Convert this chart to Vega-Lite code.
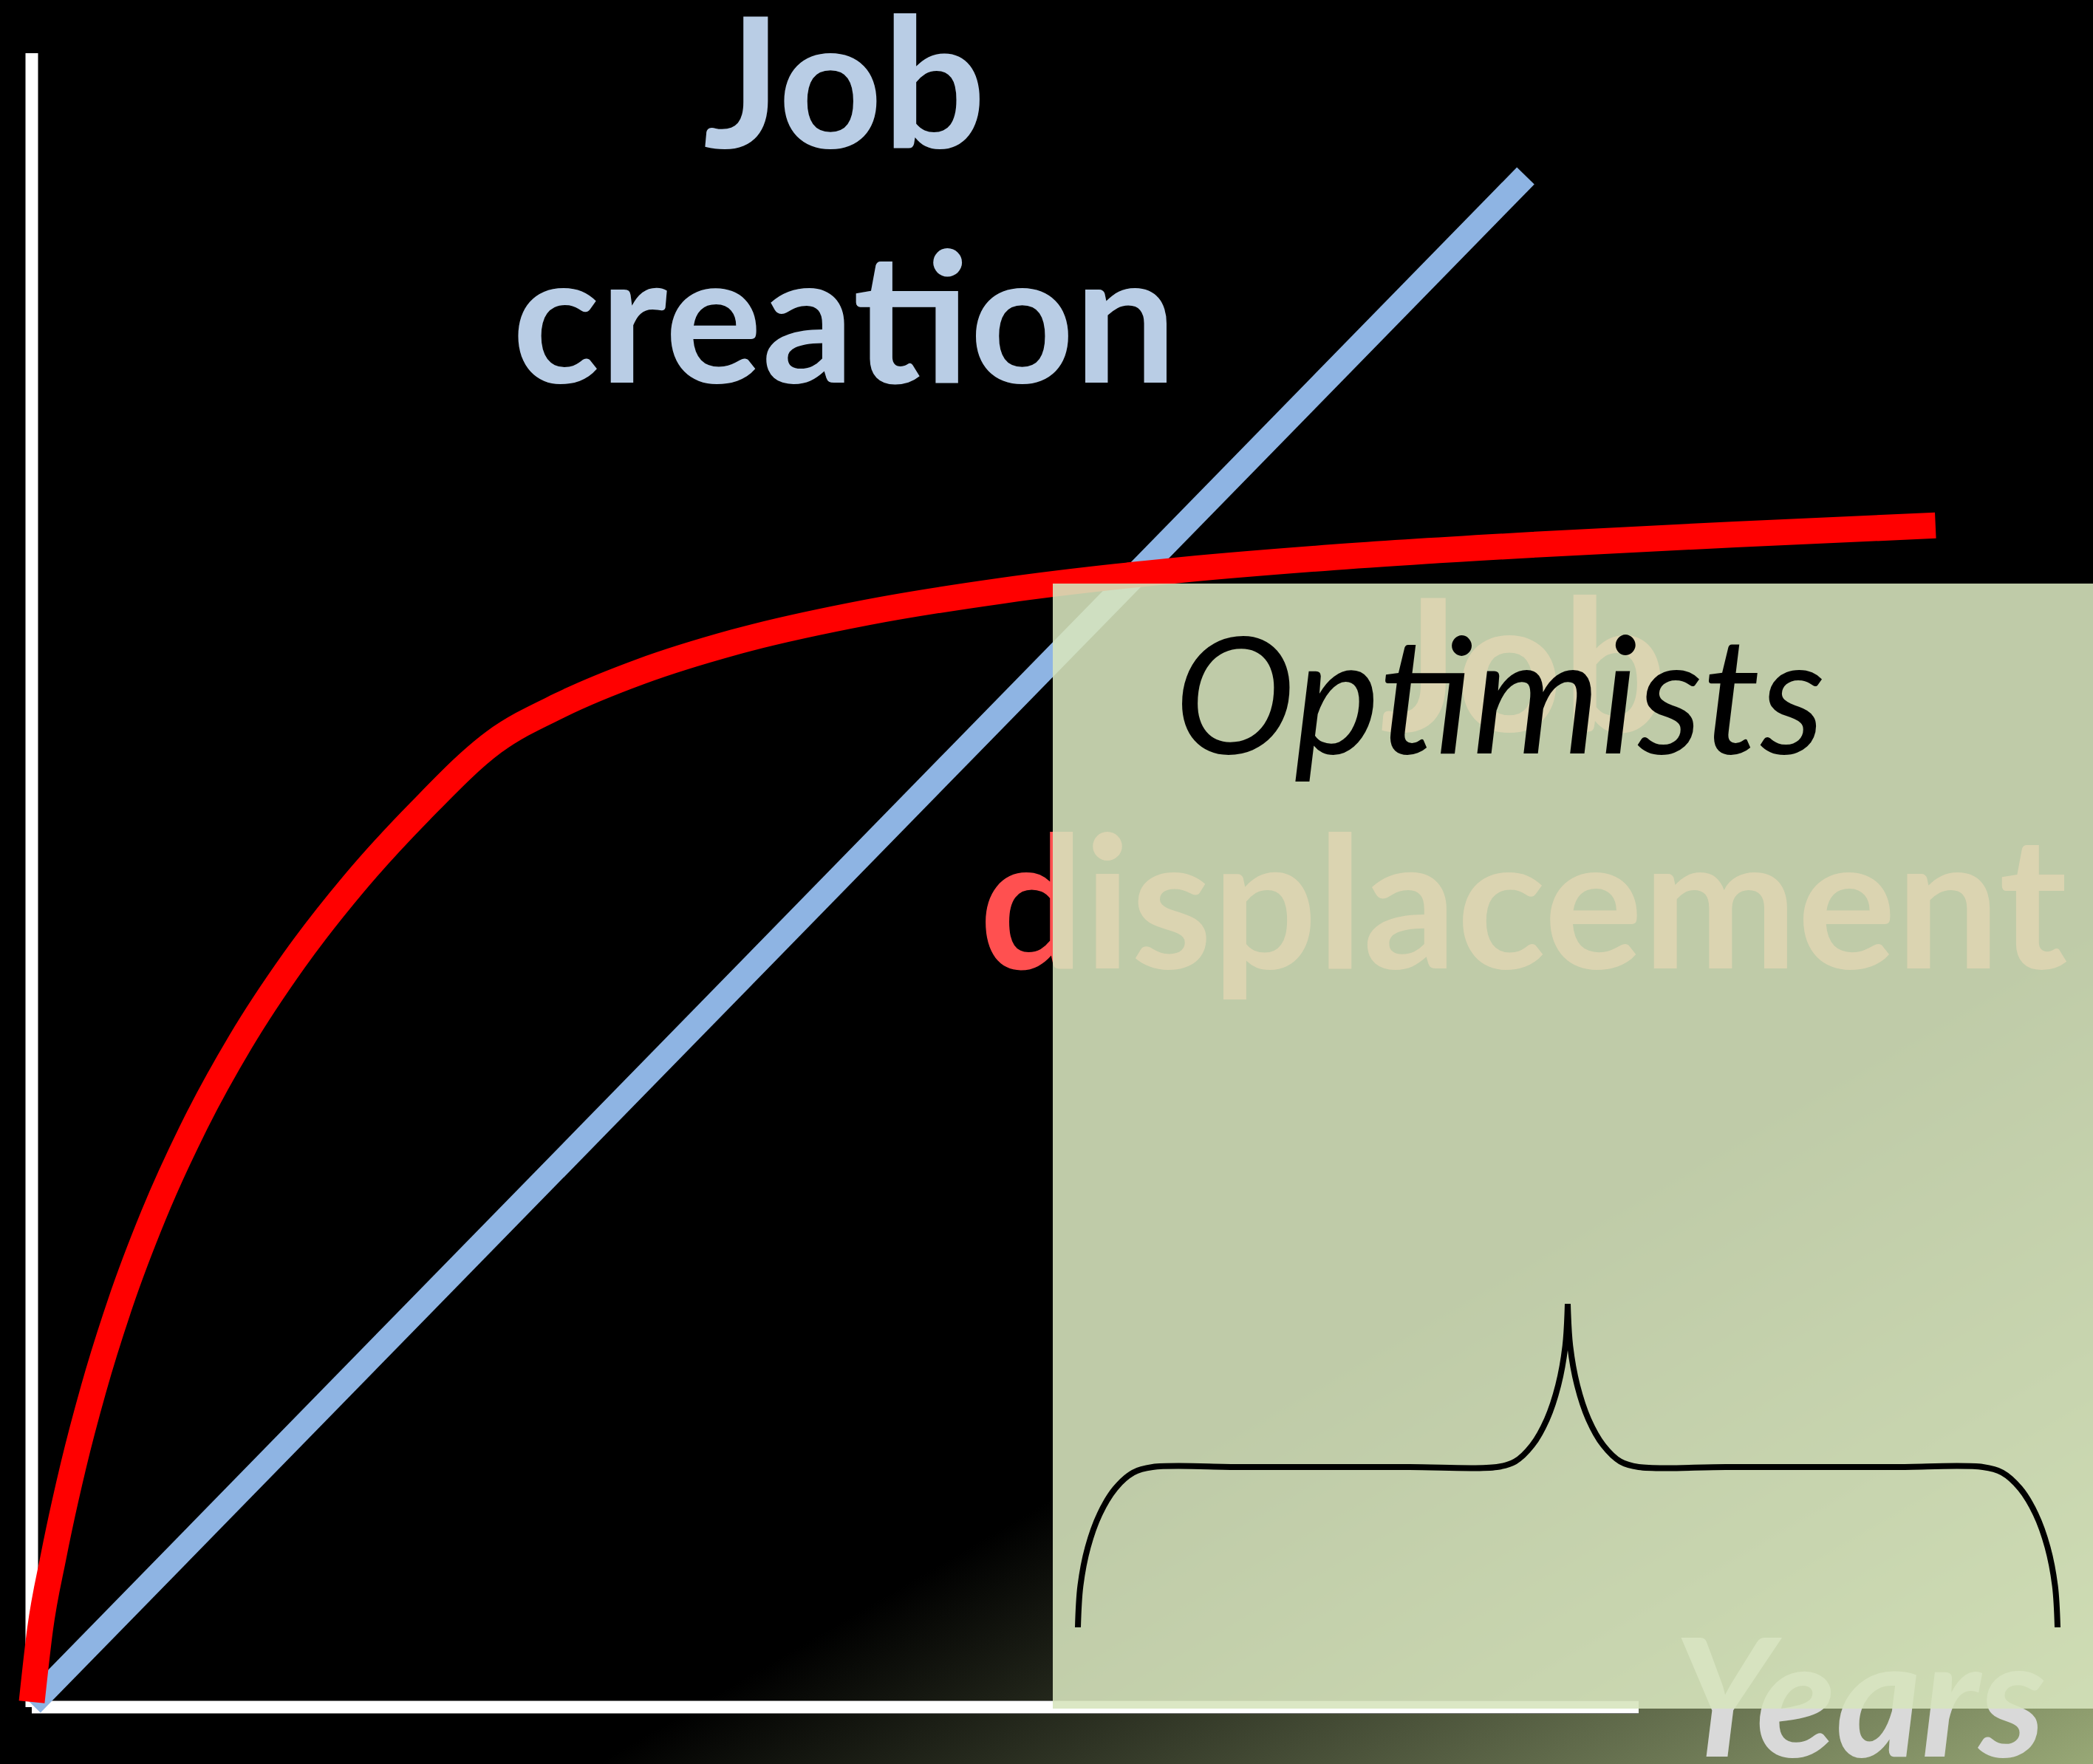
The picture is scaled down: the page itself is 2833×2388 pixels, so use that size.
{
  "$schema": "https://vega.github.io/schema/vega-lite/v6.json",
  "width": 2833,
  "height": 2388,
  "padding": 0,
  "autosize": {"type": "none"},
  "background": "#000000",
  "config": {"view": {"stroke": null}},
  "datasets": {
    "canvas": [{"id": 1}],
    "axes": [
      {"year": 0, "year2": 0, "jobs": 0, "jobs2": 22.39},
      {"year": 0, "year2": 21.75, "jobs": 0, "jobs2": 0}
    ],
    "creation": [
      {"year": 0, "jobs": 0.04},
      {"year": 20.22, "jobs": 20.73}
    ],
    "displacement": [
      {"year": 0, "jobs": 0.07},
      {"year": 0.112, "jobs": 1.049},
      {"year": 0.293, "jobs": 2.034},
      {"year": 0.564, "jobs": 3.271},
      {"year": 0.835, "jobs": 4.303},
      {"year": 1.196, "jobs": 5.46},
      {"year": 1.648, "jobs": 6.658},
      {"year": 2.19, "jobs": 7.848},
      {"year": 2.822, "jobs": 9.001},
      {"year": 3.545, "jobs": 10.101},
      {"year": 4.358, "jobs": 11.145},
      {"year": 5.261, "jobs": 12.133},
      {"year": 6.255, "jobs": 13.065},
      {"year": 7.158, "jobs": 13.567},
      {"year": 8.242, "jobs": 14.019},
      {"year": 9.507, "jobs": 14.416},
      {"year": 11.314, "jobs": 14.821},
      {"year": 13.121, "jobs": 15.112},
      {"year": 15.379, "jobs": 15.377},
      {"year": 17.638, "jobs": 15.567},
      {"year": 20.348, "jobs": 15.737},
      {"year": 23.058, "jobs": 15.876},
      {"year": 25.768, "jobs": 15.997}
    ],
    "zone": [{"year": 13.82, "year2": 28.87, "jobs": -0.02, "jobs2": 15.21}],
    "brace": [
      {"side": "left", "i": 0, "year": 14.16, "jobs": 1.08},
      {"side": "left", "i": 1, "year": 14.194, "jobs": 1.642},
      {"side": "left", "i": 2, "year": 14.295, "jobs": 2.165},
      {"side": "left", "i": 3, "year": 14.456, "jobs": 2.614},
      {"side": "left", "i": 4, "year": 14.665, "jobs": 2.959},
      {"side": "left", "i": 5, "year": 14.909, "jobs": 3.176},
      {"side": "left", "i": 6, "year": 15.17, "jobs": 3.25},
      {"side": "left", "i": 7, "year": 16.35, "jobs": 3.25},
      {"side": "left", "i": 8, "year": 17.5, "jobs": 3.25},
      {"side": "left", "i": 9, "year": 18.65, "jobs": 3.25},
      {"side": "left", "i": 10, "year": 19.83, "jobs": 3.25},
      {"side": "left", "i": 11, "year": 20.078, "jobs": 3.325},
      {"side": "left", "i": 12, "year": 20.31, "jobs": 3.546},
      {"side": "left", "i": 13, "year": 20.509, "jobs": 3.897},
      {"side": "left", "i": 14, "year": 20.661, "jobs": 4.355},
      {"side": "left", "i": 15, "year": 20.757, "jobs": 4.888},
      {"side": "left", "i": 16, "year": 20.79, "jobs": 5.46},
      {"side": "right", "i": 0, "year": 27.42, "jobs": 1.08},
      {"side": "right", "i": 1, "year": 27.386, "jobs": 1.642},
      {"side": "right", "i": 2, "year": 27.285, "jobs": 2.165},
      {"side": "right", "i": 3, "year": 27.124, "jobs": 2.614},
      {"side": "right", "i": 4, "year": 26.915, "jobs": 2.959},
      {"side": "right", "i": 5, "year": 26.671, "jobs": 3.176},
      {"side": "right", "i": 6, "year": 26.41, "jobs": 3.25},
      {"side": "right", "i": 7, "year": 25.23, "jobs": 3.25},
      {"side": "right", "i": 8, "year": 24.08, "jobs": 3.25},
      {"side": "right", "i": 9, "year": 22.93, "jobs": 3.25},
      {"side": "right", "i": 10, "year": 21.75, "jobs": 3.25},
      {"side": "right", "i": 11, "year": 21.502, "jobs": 3.325},
      {"side": "right", "i": 12, "year": 21.27, "jobs": 3.546},
      {"side": "right", "i": 13, "year": 21.071, "jobs": 3.897},
      {"side": "right", "i": 14, "year": 20.919, "jobs": 4.355},
      {"side": "right", "i": 15, "year": 20.823, "jobs": 4.888},
      {"side": "right", "i": 16, "year": 20.79, "jobs": 5.46}
    ],
    "labelCreation": [{"label": "Job\ncreation", "year": 11.0, "jobs": 21.11}],
    "labelDisplacement": [{"label": "Job\ndisplacement", "year": 20.19, "jobs": 13.21}],
    "labelOptimists": [{"label": "Optimists", "year": 19.87, "jobs": 12.91}],
    "labelYears": [{"label": "Years", "year": 24.74, "jobs": -0.67}]
  },
  "layer": [
    {
      "data": {"name": "canvas"},
      "mark": {
        "type": "rect",
        "fill": {
          "gradient": "linear",
          "x1": 0, "y1": 0, "x2": 0.79, "y2": 1.145,
          "stops": [
            {"offset": 0, "color": "#000000"},
            {"offset": 0.708, "color": "#000000"},
            {"offset": 1, "color": "#98a876"}
          ]
        }
      },
      "encoding": {
        "x": {"value": 0},
        "x2": {"value": "width"},
        "y": {"value": 0},
        "y2": {"value": "height"}
      }
    },
    {
      "data": {"name": "axes"},
      "mark": {"type": "rule", "color": "#7f7f7f", "strokeWidth": 18, "strokeCap": "butt"},
      "encoding": {
        "x": {"field": "year", "type": "quantitative", "scale": {"domain": [-0.43, 27.9], "nice": false, "zero": false}, "axis": null},
        "x2": {"field": "year2"},
        "y": {"field": "jobs", "type": "quantitative", "scale": {"domain": [-0.77, 23.11], "nice": false, "zero": false}, "axis": null},
        "y2": {"field": "jobs2"}
      }
    },
    {
      "data": {"name": "axes"},
      "mark": {"type": "rule", "color": "#ffffff", "strokeWidth": 16, "strokeCap": "butt"},
      "encoding": {
        "x": {"field": "year", "type": "quantitative", "scale": {"domain": [-0.43, 27.9], "nice": false, "zero": false}, "axis": null},
        "x2": {"field": "year2"},
        "y": {"field": "jobs", "type": "quantitative", "scale": {"domain": [-0.77, 23.11], "nice": false, "zero": false}, "axis": null},
        "y2": {"field": "jobs2"}
      }
    },
    {
      "data": {"name": "creation"},
      "mark": {"type": "line", "color": "#8eb4e3", "strokeWidth": 33, "strokeCap": "butt"},
      "encoding": {
        "x": {"field": "year", "type": "quantitative", "scale": {"domain": [-0.43, 27.9], "nice": false, "zero": false}, "axis": null},
        "y": {"field": "jobs", "type": "quantitative", "scale": {"domain": [-0.77, 23.11], "nice": false, "zero": false}, "axis": null}
      }
    },
    {
      "data": {"name": "displacement"},
      "mark": {"type": "line", "color": "#ff0000", "strokeWidth": 35, "strokeCap": "butt", "interpolate": "monotone"},
      "encoding": {
        "x": {"field": "year", "type": "quantitative", "scale": {"domain": [-0.43, 27.9], "nice": false, "zero": false}, "axis": null},
        "y": {"field": "jobs", "type": "quantitative", "scale": {"domain": [-0.77, 23.11], "nice": false, "zero": false}, "axis": null}
      }
    },
    {
      "data": {"name": "labelCreation"},
      "mark": {"type": "text", "font": "Lato", "fontWeight": "bold", "fontSize": 246, "lineHeight": 318, "lineBreak": "\n", "align": "center", "baseline": "alphabetic", "color": "#b9cde5"},
      "encoding": {
        "x": {"field": "year", "type": "quantitative", "scale": {"domain": [-0.43, 27.9], "nice": false, "zero": false}, "axis": null},
        "y": {"field": "jobs", "type": "quantitative", "scale": {"domain": [-0.77, 23.11], "nice": false, "zero": false}, "axis": null},
        "text": {"field": "label"}
      }
    },
    {
      "data": {"name": "labelDisplacement"},
      "mark": {"type": "text", "font": "Lato", "fontWeight": "bold", "fontSize": 250, "lineHeight": 321, "lineBreak": "\n", "align": "center", "baseline": "alphabetic", "color": "#ff5050"},
      "encoding": {
        "x": {"field": "year", "type": "quantitative", "scale": {"domain": [-0.43, 27.9], "nice": false, "zero": false}, "axis": null},
        "y": {"field": "jobs", "type": "quantitative", "scale": {"domain": [-0.77, 23.11], "nice": false, "zero": false}, "axis": null},
        "text": {"field": "label"}
      }
    },
    {
      "data": {"name": "labelYears"},
      "mark": {"type": "text", "font": "Lato", "fontWeight": "bold", "fontStyle": "italic", "fontSize": 222, "align": "center", "baseline": "alphabetic", "color": "#d9d9d9"},
      "encoding": {
        "x": {"field": "year", "type": "quantitative", "scale": {"domain": [-0.43, 27.9], "nice": false, "zero": false}, "axis": null},
        "y": {"field": "jobs", "type": "quantitative", "scale": {"domain": [-0.77, 23.11], "nice": false, "zero": false}, "axis": null},
        "text": {"field": "label"}
      }
    },
    {
      "data": {"name": "zone"},
      "mark": {"type": "rect", "fill": "#d7e4bd", "fillOpacity": 0.89},
      "encoding": {
        "x": {"field": "year", "type": "quantitative", "scale": {"domain": [-0.43, 27.9], "nice": false, "zero": false}, "axis": null},
        "x2": {"field": "year2"},
        "y": {"field": "jobs", "type": "quantitative", "scale": {"domain": [-0.77, 23.11], "nice": false, "zero": false}, "axis": null},
        "y2": {"field": "jobs2"}
      }
    },
    {
      "data": {"name": "labelOptimists"},
      "mark": {"type": "text", "font": "Lato", "fontStyle": "italic", "fontSize": 220, "align": "center", "baseline": "alphabetic", "color": "#000000"},
      "encoding": {
        "x": {"field": "year", "type": "quantitative", "scale": {"domain": [-0.43, 27.9], "nice": false, "zero": false}, "axis": null},
        "y": {"field": "jobs", "type": "quantitative", "scale": {"domain": [-0.77, 23.11], "nice": false, "zero": false}, "axis": null},
        "text": {"field": "label"}
      }
    },
    {
      "data": {"name": "brace"},
      "mark": {"type": "line", "color": "#000000", "strokeWidth": 8, "strokeCap": "butt", "interpolate": "catmull-rom"},
      "encoding": {
        "x": {"field": "year", "type": "quantitative", "scale": {"domain": [-0.43, 27.9], "nice": false, "zero": false}, "axis": null},
        "y": {"field": "jobs", "type": "quantitative", "scale": {"domain": [-0.77, 23.11], "nice": false, "zero": false}, "axis": null},
        "detail": {"field": "side", "type": "nominal"},
        "order": {"field": "i", "type": "quantitative"}
      }
    }
  ]
}
